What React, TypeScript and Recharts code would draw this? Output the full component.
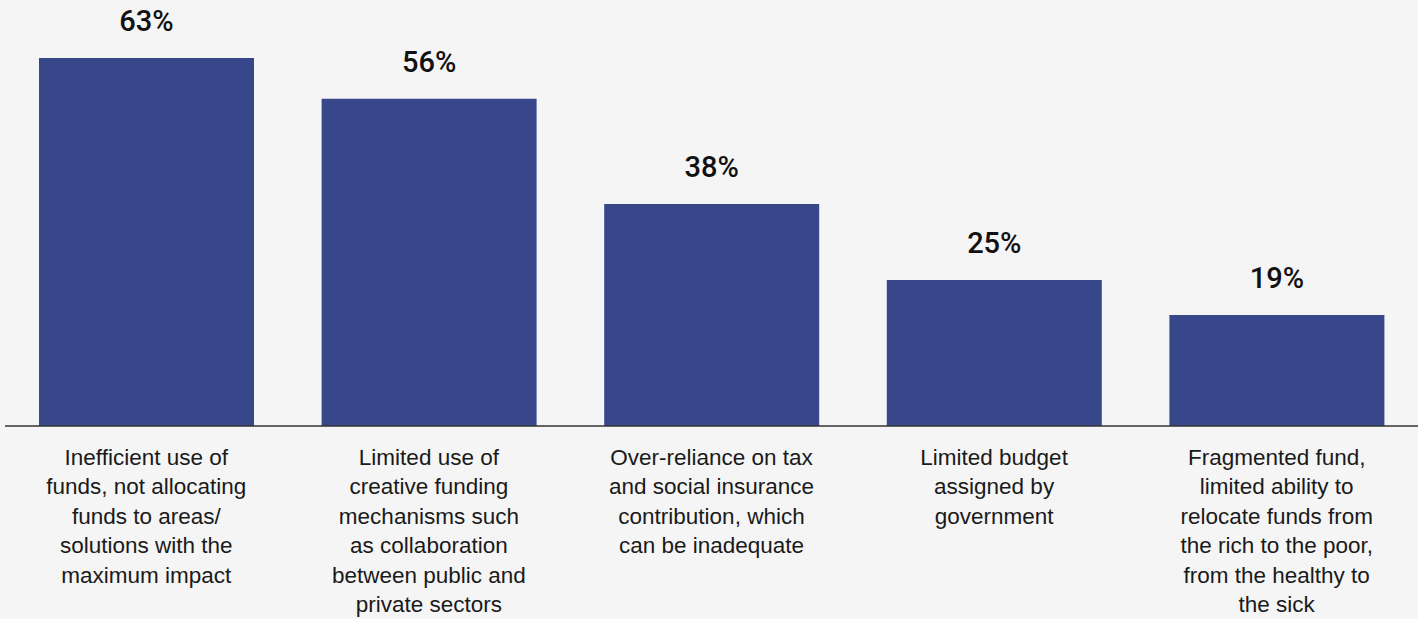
import { Bar, BarChart, LabelList, XAxis, YAxis } from "recharts";

const categories = [
  "Inefficient use of\nfunds, not allocating\nfunds to areas/\nsolutions with the\nmaximum impact",
  "Limited use of\ncreative funding\nmechanisms such\nas collaboration\nbetween public and\nprivate sectors",
  "Over-reliance on tax\nand social insurance\ncontribution, which\ncan be inadequate",
  "Limited budget\nassigned by\ngovernment",
  "Fragmented fund,\nlimited ability to\nrelocate funds from\nthe rich to the poor,\nfrom the healthy to\nthe sick",
];

const shares = [63, 56, 38, 25, 19];

const data = categories.map((name, i) => ({ name, share: shares[i] }));

document.body.style.margin = "0";
document.body.style.background = "#f5f5f5";

function WrappedTick(props: any) {
  const { x, y, payload } = props;
  const lines: string[] = String(payload.value).split("\n");
  return (
    <text
      x={x}
      y={y}
      textAnchor="middle"
      fill="#1a1a1a"
      fontSize={22.5}
      fontFamily="'Liberation Sans', Arial, sans-serif"
    >
      {lines.map((line, i) => (
        <tspan key={i} x={x} y={y + 31 + i * 29.4}>
          {line}
        </tspan>
      ))}
    </text>
  );
}

function ValueLabel(props: any) {
  const { x, y, width, value } = props;
  return (
    <text
      x={x + width / 2}
      y={y - 27}
      textAnchor="middle"
      fill="#111"
      fontSize={29}
      fontWeight={500}
      fontFamily="Roboto, Arial, sans-serif"
    >
      {`${value}%`}
    </text>
  );
}

export default function App() {
  return (
    <div style={{ width: 1418, height: 619, background: "#f5f5f5" }}>
      <BarChart
        width={1418}
        height={619}
        data={data}
        margin={{ top: 17, right: 0, bottom: 0, left: 5 }}
        barCategoryGap={34}
      >
        <XAxis
          dataKey="name"
          interval={0}
          height={193}
          tickLine={false}
          axisLine={{ stroke: "#333", strokeWidth: 1.5 }}
          tick={<WrappedTick />}
        />
        <YAxis hide domain={[0, 70]} />
        <Bar dataKey="share" fill="#37478a" isAnimationActive={false}>
          <LabelList dataKey="share" content={<ValueLabel />} />
        </Bar>
      </BarChart>
    </div>
  );
}
